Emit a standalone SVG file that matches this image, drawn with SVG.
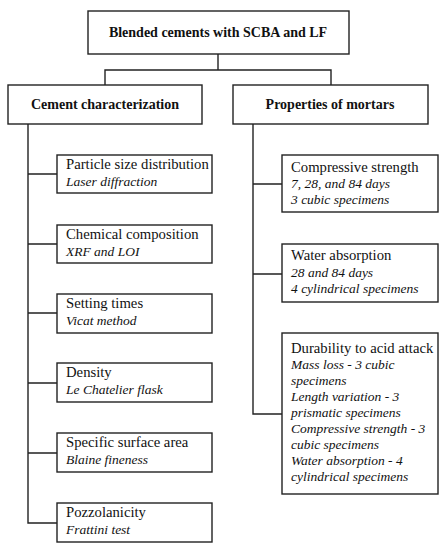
<svg xmlns="http://www.w3.org/2000/svg" width="448" height="550" viewBox="0 0 448 550">
<style>
rect{fill:#fff;stroke:#222;stroke-width:1.4}
.c path{fill:none;stroke:#222;stroke-width:1.4}
text{font-family:"Liberation Serif","Times New Roman",serif;font-size:14.7px;fill:#111}
.b{font-weight:bold;text-anchor:middle;font-size:14px}
.i{font-style:italic;font-size:13.5px}
</style>
<rect width="448" height="550" style="fill:#fff;stroke:none"/>
<g class="c" id="connectors">
<path d="M218 54V70M105 85V70H331V85"/>
<path d="M28 124V523H57M28 174H57M28 244H57M28 313H57M28 383H57M28 453H57"/>
<path d="M253 124V414H282M253 184H282M253 274H282"/>
</g>
<g id="root"><rect x="88" y="11" width="261" height="43"/><text class="b" x="218" y="37">Blended cements with SCBA and LF</text></g>
<g id="cement"><rect x="8" y="85" width="194" height="39"/><text class="b" x="105" y="109">Cement characterization</text></g>
<g id="mortars"><rect x="233" y="85" width="195" height="39"/><text class="b" x="330" y="109">Properties of mortars</text></g>
<g id="psd"><rect x="57" y="155" width="155" height="38"/><text x="66" y="169">Particle size distribution</text><text class="i" x="66" y="186">Laser diffraction</text></g>
<g id="chem"><rect x="57" y="225" width="155" height="38"/><text x="66" y="239">Chemical composition</text><text class="i" x="66" y="256">XRF and LOI</text></g>
<g id="setting"><rect x="57" y="294" width="155" height="39"/><text x="66" y="308">Setting times</text><text class="i" x="66" y="325">Vicat method</text></g>
<g id="density"><rect x="57" y="363" width="155" height="39"/><text x="66" y="377">Density</text><text class="i" x="66" y="394">Le Chatelier flask</text></g>
<g id="ssa"><rect x="57" y="433" width="155" height="39"/><text x="66" y="447">Specific surface area</text><text class="i" x="66" y="464">Blaine fineness</text></g>
<g id="pozz"><rect x="57" y="503" width="155" height="39"/><text x="66" y="517">Pozzolanicity</text><text class="i" x="66" y="534">Frattini test</text></g>
<g id="comp"><rect x="282" y="155" width="156" height="57"/><text x="291" y="172">Compressive strength</text><text class="i" x="291" y="188">7, 28, and 84 days</text><text class="i" x="291" y="204">3 cubic specimens</text></g>
<g id="water"><rect x="282" y="244" width="156" height="58"/><text x="291" y="260">Water absorption</text><text class="i" x="291" y="277">28 and 84 days</text><text class="i" x="291" y="293">4 cylindrical specimens</text></g>
<g id="durability"><rect x="282" y="333" width="156" height="161"/><text x="291" y="353">Durability to acid attack</text>
<text class="i" x="291" y="369">Mass loss - 3 cubic</text>
<text class="i" x="291" y="385">specimens</text>
<text class="i" x="291" y="401">Length variation - 3</text>
<text class="i" x="291" y="417">prismatic specimens</text>
<text class="i" x="291" y="433">Compressive strength - 3</text>
<text class="i" x="291" y="449">cubic specimens</text>
<text class="i" x="291" y="465">Water absorption - 4</text>
<text class="i" x="291" y="481">cylindrical specimens</text></g>
</svg>
